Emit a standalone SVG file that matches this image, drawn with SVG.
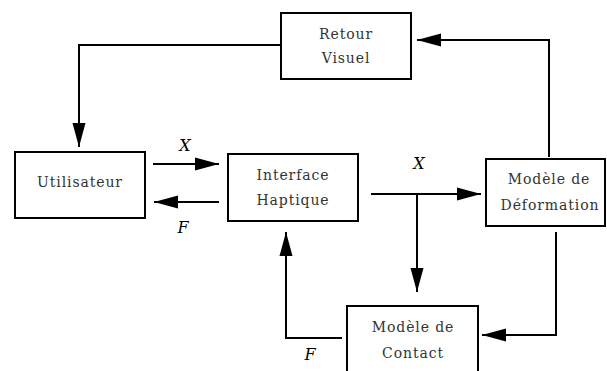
<svg xmlns="http://www.w3.org/2000/svg" width="607" height="371" viewBox="0 0 607 371">
  <defs>
    <marker id="head" markerUnits="userSpaceOnUse" markerWidth="26" markerHeight="14" refX="24" refY="7" orient="auto">
      <path d="M0,0.5 L24,7 L0,13.5 z" fill="#000"/>
    </marker>
    <style>
      .box { fill: #fff; stroke: #000; stroke-width: 2; }
      .lbl { font-family: "DejaVu Serif", "Liberation Serif", serif; font-size: 14px; letter-spacing: 0.9px; fill: #333; text-anchor: middle; }
      .var { font-family: "DejaVu Serif", "Liberation Serif", serif; font-size: 16px; font-style: italic; fill: #000; text-anchor: middle; }
      .wire { fill: none; stroke: #000; stroke-width: 2; }
      .arrow { marker-end: url(#head); }
    </style>
  </defs>
  <rect width="607" height="371" fill="#fff"/>

  <g id="connectors">
    <path class="wire arrow" d="M281,45 H79 V147"/>
    <path class="wire arrow" d="M153,164 H219"/>
    <path class="wire arrow" d="M219,202 H154"/>
    <path class="wire arrow" d="M371,194 H481"/>
    <path class="wire arrow" d="M417,194 V292"/>
    <path class="wire arrow" d="M549,157 V40 H417"/>
    <path class="wire arrow" d="M556,232 V335 H482"/>
    <path class="wire arrow" d="M342,338 H286 V232"/>
    <text class="var" x="185" y="151">X</text>
    <text class="var" x="183" y="233">F</text>
    <text class="var" x="419" y="169">X</text>
    <text class="var" x="310" y="360">F</text>
  </g>

  <g id="retour-visuel">
    <rect class="box" x="281" y="13" width="130" height="66"/>
    <text class="lbl" x="346" y="39">Retour</text>
    <text class="lbl" x="346" y="63">Visuel</text>
  </g>

  <g id="utilisateur">
    <rect class="box" x="15" y="152" width="130" height="66"/>
    <text class="lbl" x="80" y="187">Utilisateur</text>
  </g>

  <g id="interface-haptique">
    <rect class="box" x="228" y="154" width="130" height="67"/>
    <text class="lbl" x="293" y="180">Interface</text>
    <text class="lbl" x="293" y="205">Haptique</text>
  </g>

  <g id="modele-deformation">
    <rect class="box" x="486" y="159" width="119" height="67"/>
    <text class="lbl" x="549" y="184">Modèle de</text>
    <text class="lbl" x="550" y="210">Déformation</text>
  </g>

  <g id="modele-contact">
    <rect class="box" x="347" y="306" width="131" height="80"/>
    <text class="lbl" x="413" y="332">Modèle de</text>
    <text class="lbl" x="413" y="358">Contact</text>
  </g>
</svg>
